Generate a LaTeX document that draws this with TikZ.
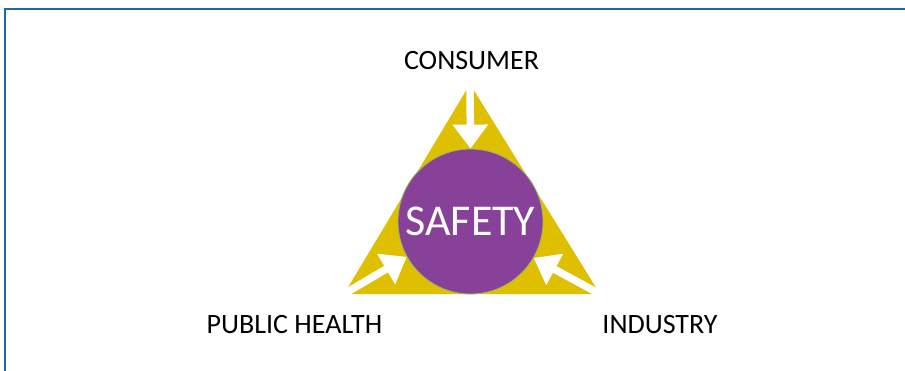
\documentclass[tikz,border=0pt]{standalone}
\usepackage{fontspec}
\setmainfont{Carlito}
\usepackage{tikz}
\usetikzlibrary{arrows.meta, positioning}
\definecolor{framebl}{RGB}{30,104,176}
\definecolor{trigold}{RGB}{223,192,0}
\definecolor{safepurple}{RGB}{136,65,152}
\definecolor{rimgreen}{RGB}{155,187,89}

\begin{document}
\begin{tikzpicture}[x=1pt, y=-1pt,
  label/.style={font=\fontsize{28}{31}\selectfont, text=black},
  push/.style={draw=white, line width=7.5pt, -{Triangle[width=34pt,length=24pt]}}]
\useasboundingbox (0,0) rectangle (905,370);
\clip (0,0) rectangle (905,370);
\draw[framebl, line width=2pt] (4.5,8.5) rectangle (920,390);

\coordinate (apex) at (470,83);
\coordinate (lcorner) at (344,294);
\coordinate (rcorner) at (600,294);
\fill[trigold] (470,84) -- (lcorner) -- (rcorner) -- cycle;

\node[circle, fill=safepurple, draw=rimgreen, line width=0.8pt, minimum size=145pt, inner sep=0pt,
  text=white, font=\fontsize{44}{47}\selectfont] (safety) at (470.5,221.5) {SAFETY};

\draw[push] (apex) -- (safety.north);
\draw[push] (lcorner) -- (safety.209.5);
\draw[push] (rcorner) -- (safety.330.5);

\node[label] (consumer) at (471.5,60.5) {CONSUMER};
\node[label] (health) at (294.5,324.5) {PUBLIC HEALTH};
\node[label] (industry) at (660,324.5) {INDUSTRY};
\end{tikzpicture}
\end{document}
